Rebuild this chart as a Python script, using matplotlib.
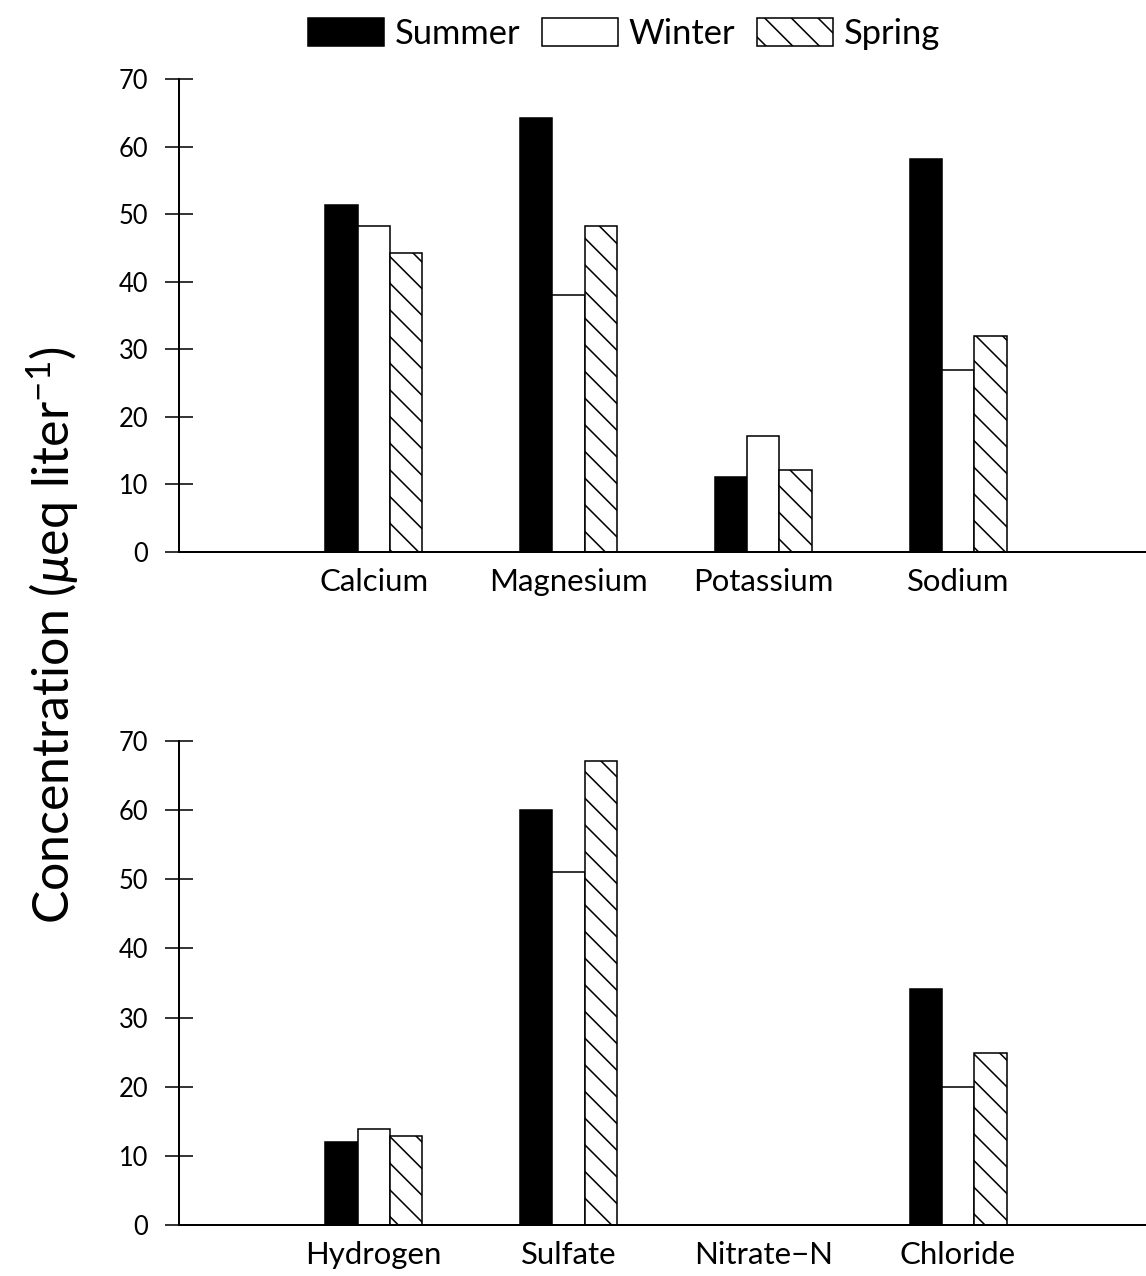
import matplotlib
matplotlib.use('Agg')
import matplotlib.pyplot as plt
import numpy as np

# values (ueq / liter)
seasons = ['Summer', 'Winter', 'Spring']
cations = ['Calcium', 'Magnesium', 'Potassium', 'Sodium']
cation_vals = {
    'Summer': [51.3, 64.2, 11.1, 58.1],
    'Winter': [48.3, 38.1, 17.2, 27.0],
    'Spring': [44.3, 48.3, 12.1, 31.9],
}
anions = ['Hydrogen', 'Sulfate', 'Nitrate\u2212N', 'Chloride']
anion_vals = {
    'Summer': [12.0, 60.0, 0.0, 34.1],
    'Winter': [13.9, 51.1, 0.0, 19.9],
    'Spring': [12.9, 67.1, 0.0, 24.9],
}
yticks = [0, 10, 20, 30, 40, 50, 60, 70]

DPI = 160
plt.rcParams['font.family'] = ['Lato', 'DejaVu Sans']
plt.rcParams['mathtext.fontset'] = 'custom'
plt.rcParams['mathtext.rm'] = 'Lato'
plt.rcParams['mathtext.it'] = 'Lato:italic'
plt.rcParams['hatch.linewidth'] = 0.7

styles = {
    'Summer': dict(facecolor='black', edgecolor='black', hatch=None),
    'Winter': dict(facecolor='white', edgecolor='black', hatch=None),
    'Spring': dict(facecolor='white', edgecolor='black', hatch='\\\\'),
}

fig = plt.figure(figsize=(1146 / DPI, 1276 / DPI), dpi=DPI)
ax1 = fig.add_axes([0.1562, 0.5674, 0.8438, 0.3707])
ax2 = fig.add_axes([0.1562, 0.0400, 0.8438, 0.3793])

width = 0.166


def draw(ax, cats, vals):
    x = np.arange(1, len(cats) + 1)
    bars = []
    for i, s in enumerate(seasons):
        b = ax.bar(x + (i - 1) * width, vals[s], width, linewidth=0.7,
                   label=s, **styles[s])
        bars.append(b)
    ax.set_xlim(0, 4.965)
    ax.set_ylim(0, 70)
    ax.set_yticks(yticks)
    ax.set_xticks(x)
    ax.set_xticklabels(cats, fontsize=14)
    for sp in ['top', 'right']:
        ax.spines[sp].set_visible(False)
    for sp in ['left', 'bottom']:
        ax.spines[sp].set_linewidth(0.9)
    ax.tick_params(axis='y', direction='inout', length=12.6, width=0.7,
                   pad=7.5, labelsize=11.5)
    ax.tick_params(axis='x', length=0, pad=7)
    return bars


bars = draw(ax1, cations, cation_vals)
draw(ax2, anions, anion_vals)

fig.text(0.046, 0.502, r'Concentration ($\mu$eq liter$^{-1}$)', rotation=90,
         ha='center', va='center', fontsize=22.5)

fig.legend(handles=bars, labels=seasons, loc='center',
           bbox_to_anchor=(0.5445, 0.9734), ncol=3, frameon=False,
           fontsize=15.5, handlelength=2.2, handleheight=0.85,
           handletextpad=0.3, columnspacing=0.65, borderpad=0,
           borderaxespad=0)

fig.savefig('out.png', dpi=DPI)
